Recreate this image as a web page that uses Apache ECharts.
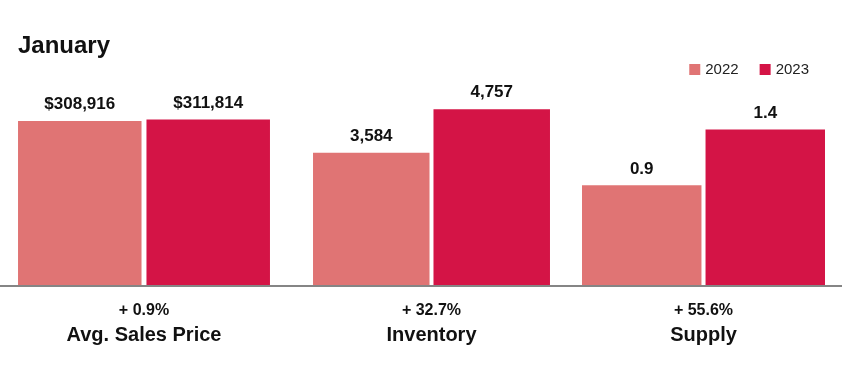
<!DOCTYPE html>
<html>
<head>
<meta charset="utf-8">
<script src="https://cdn.jsdelivr.net/npm/echarts@6/dist/echarts.min.js"></script>
<style>
html,body{margin:0;padding:0;background:#fff;}
#chart{width:842px;height:374px;}
</style>
</head>
<body>
<div id="chart"></div>
<script>
// ---- data ----
var categories = ['Avg. Sales Price', 'Inventory', 'Supply'];
var changes = ['+ 0.9%', '+ 32.7%', '+ 55.6%'];
var years = ['2022', '2023'];
var values2022 = [308916, 3584, 0.9];
var values2023 = [311814, 4757, 1.4];
var valueFormats = ['currency', 'integer', 'decimal'];

// ---- layout / style ----
var colors = ['#E07474', '#D41446'];
var FONT = '"Liberation Sans", Arial, Helvetica, sans-serif';
var gridTop = 40, gridBottomY = 286;
var grids = [
  {left: 18, width: 252, barWidth: 123.5, gap: '4%', max: 460500},
  {left: 313, width: 237, barWidth: 116.5, gap: '3.4%', max: 6620},
  {left: 582, width: 243, barWidth: 119.5, gap: '3.4%', max: 2.2}
];

function fmt(v, kind) {
  if (kind === 'currency') return '$' + v.toLocaleString('en-US');
  if (kind === 'integer') return v.toLocaleString('en-US');
  return v.toFixed(1);
}

var chart = echarts.init(document.getElementById('chart'), null, {renderer: 'canvas'});

var gridOpts = [], xAxes = [], yAxes = [], series = [];
grids.forEach(function (g, i) {
  gridOpts.push({left: g.left, width: g.width, top: gridTop, height: gridBottomY - gridTop, containLabel: false});
  xAxes.push({
    type: 'category', gridIndex: i, data: [categories[i]],
    axisLine: {show: false}, axisTick: {show: false},
    axisLabel: {
      margin: 15, interval: 0,
      formatter: function (v) { return '{a|' + changes[i] + '}\n{b|' + v + '}'; },
      rich: {
        a: {fontFamily: FONT, fontSize: 16, fontWeight: 'bold', color: '#111', lineHeight: 20, align: 'center'},
        b: {fontFamily: FONT, fontSize: 20, fontWeight: 'bold', color: '#111', lineHeight: 28, align: 'center'}
      }
    }
  });
  yAxes.push({type: 'value', gridIndex: i, min: 0, max: g.max, show: false, splitLine: {show: false}});
  [values2022, values2023].forEach(function (arr, s) {
    series.push({
      type: 'bar', name: years[s], xAxisIndex: i, yAxisIndex: i,
      data: [arr[i]], barWidth: g.barWidth, barGap: g.gap,
      itemStyle: {color: colors[s]},
      label: {
        show: true, position: 'top', distance: 8,
        fontFamily: FONT, fontSize: 17, fontWeight: 'bold', color: '#111',
        formatter: function (p) { return fmt(p.value, valueFormats[i]); }
      },
      emphasis: {disabled: true},
      animation: false
    });
  });
});

chart.setOption({
  backgroundColor: '#ffffff',
  animation: false,
  title: {
    text: 'January', left: 13, top: 29,
    textStyle: {fontFamily: FONT, fontSize: 24, fontWeight: 'bold', color: '#111'}
  },
  legend: {
    data: years, right: 28, top: 57, icon: 'rect',
    itemWidth: 11, itemHeight: 11, itemGap: 21,
    textStyle: {fontFamily: FONT, fontSize: 15, color: '#222'},
    selectedMode: false
  },
  grid: gridOpts,
  xAxis: xAxes,
  yAxis: yAxes,
  series: series,
  graphic: [{
    type: 'line', z: 100,
    shape: {x1: 0, y1: gridBottomY, x2: 842, y2: gridBottomY},
    style: {stroke: '#858585', lineWidth: 2}
  }]
});
</script>
</body>
</html>
